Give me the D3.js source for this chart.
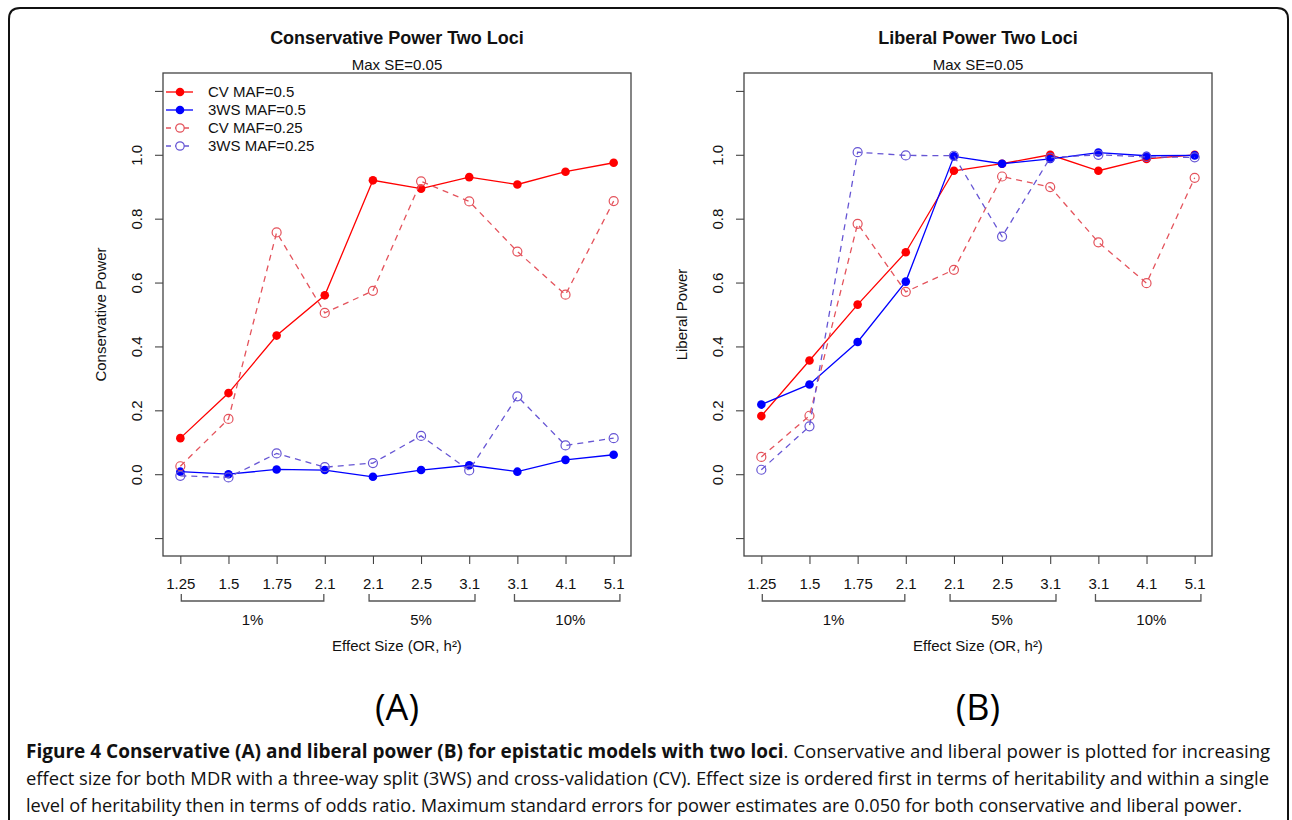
<!DOCTYPE html>
<html>
<head>
<meta charset="utf-8">
<script src="https://cdn.jsdelivr.net/npm/d3@7"></script>
<style>
  body { margin: 0; background: #fff; }
  svg { display: block; }
  .plot text { font-family: "Liberation Sans", Arial, sans-serif; fill: #111; }
  .caption text { font-family: "Open Sans", sans-serif; fill: #111; }
</style>
</head>
<body>
<div class="chart"></div>
<script>
// x categories (OR within heritability level)
var effectLabels = ['1.25', '1.5', '1.75', '2.1', '2.1', '2.5', '3.1', '3.1', '4.1', '5.1'];
var heritLabels = ['1%', '5%', '10%'];
var seriesNames = ['CV MAF=0.5', '3WS MAF=0.5', 'CV MAF=0.25', '3WS MAF=0.25'];
var yTicks = [-0.2, 0, 0.2, 0.4, 0.6, 0.8, 1.0, 1.2];

// conservative power (A)
var consCV05 = [0.113, 0.254, 0.434, 0.560, 0.920, 0.894, 0.930, 0.907, 0.947, 0.975];
var cons3WS05 = [0.008, 0.000, 0.015, 0.013, -0.008, 0.013, 0.028, 0.008, 0.045, 0.061];
var consCV025 = [0.025, 0.173, 0.757, 0.505, 0.574, 0.917, 0.854, 0.697, 0.562, 0.855];
var cons3WS025 = [-0.005, -0.010, 0.065, 0.022, 0.035, 0.120, 0.012, 0.244, 0.090, 0.113];

// liberal power (B)
var libCV05 = [0.182, 0.356, 0.531, 0.695, 0.950, 0.972, 1.000, 0.950, 0.987, 1.000];
var lib3WS05 = [0.218, 0.281, 0.414, 0.603, 0.995, 0.972, 0.987, 1.007, 0.997, 0.998];
var libCV025 = [0.054, 0.183, 0.784, 0.571, 0.640, 0.932, 0.899, 0.726, 0.598, 0.928];
var lib3WS025 = [0.014, 0.150, 1.008, 0.998, 0.997, 0.744, 0.991, 1.000, 0.993, 0.992];

var styles = [
  { color: '#ff0000', dash: null, filled: true },
  { color: '#0000ff', dash: null, filled: true },
  { color: '#e4535c', dash: '6,5', filled: false },
  { color: '#6655d4', dash: '6,5', filled: false }
];

var W = 1292, H = 820;
var svg = d3.select('.chart')
  .append('svg')
    .attr('width', W)
    .attr('height', H);

// frame around the figure
svg.append('path')
  .attr('d', 'M9,840 V19 Q9,8 20,8 H1277 Q1288,8 1288,19 V840')
  .attr('fill', 'none')
  .attr('stroke', '#111')
  .attr('stroke-width', 2);

function panel(left, title, ylab, series, letter, showLegend) {
  var top = 73, bottom = 556, right = left + 468;

  var xScale = d3.scaleLinear()
    .domain([0.64, 10.36])
    .range([left, right]);

  var yScale = d3.scaleLinear()
    .domain([-0.256, 1.256])
    .range([bottom, top]);

  var g = svg.append('g').attr('class', 'plot');

  // y axis, ticks at -0.2..1.2 but labels only 0..1
  var yAxis = d3.axisLeft(yScale)
    .tickValues(yTicks)
    .tickSize(8)
    .tickFormat(d => (d < 0 || d > 1.05) ? '' : d3.format('.1f')(d));

  var ya = g.append('g')
    .attr('transform', `translate(${left}, 0)`)
    .call(yAxis);
  ya.select('.domain').remove();
  ya.selectAll('line').attr('stroke', '#333');
  ya.selectAll('text')
    .attr('x', 0)
    .attr('dy', 0)
    .attr('y', -21)
    .attr('transform', 'rotate(-90)')
    .style('text-anchor', 'middle')
    .style('font-size', '15px');

  // x axis
  var xAxis = d3.axisBottom(xScale)
    .tickValues(d3.range(1, 11))
    .tickSize(8)
    .tickPadding(14)
    .tickFormat((d, i) => effectLabels[i]);

  var xa = g.append('g')
    .attr('transform', `translate(0, ${bottom})`)
    .call(xAxis);
  xa.select('.domain').remove();
  xa.selectAll('line').attr('stroke', '#333');
  xa.selectAll('text').style('font-size', '15px');

  // brackets for heritability groups
  var groups = [[1.02, 3.98], [4.92, 7.12], [7.94, 10.13]];
  var groupMid = [2.5, 6.0, 9.1];
  groups.forEach(function (r, i) {
    g.append('path')
      .attr('d', `M${xScale(r[0])},594 V601 H${xScale(r[1])} V594`)
      .attr('fill', 'none')
      .attr('stroke', '#555')
      .attr('stroke-width', 1.3);
    g.append('text')
      .attr('x', xScale(groupMid[i]))
      .attr('y', 625)
      .attr('text-anchor', 'middle')
      .style('font-size', '15px')
      .text(heritLabels[i]);
  });

  g.append('text')
    .attr('x', (left + right) / 2)
    .attr('y', 651)
    .attr('text-anchor', 'middle')
    .style('font-size', '15px')
    .text('Effect Size (OR, h²)');

  g.append('text')
    .attr('transform', `translate(${left - 57}, ${(top + bottom) / 2}) rotate(-90)`)
    .attr('text-anchor', 'middle')
    .style('font-size', '15px')
    .text(ylab);

  g.append('text')
    .attr('x', (left + right) / 2)
    .attr('y', 44)
    .attr('text-anchor', 'middle')
    .style('font-size', '18px')
    .style('font-weight', 'bold')
    .text(title);

  g.append('text')
    .attr('x', (left + right) / 2)
    .attr('y', 70)
    .attr('text-anchor', 'middle')
    .style('font-size', '15px')
    .text('Max SE=0.05');

  // series
  var line = d3.line()
    .x((d, i) => xScale(i + 1))
    .y(d => yScale(d));

  series.forEach(function (vals, k) {
    var s = styles[k];
    g.append('path')
      .datum(vals)
      .attr('d', line)
      .attr('fill', 'none')
      .attr('stroke', s.color)
      .attr('stroke-width', 1.3)
      .attr('stroke-dasharray', s.dash);

    g.selectAll('.pt' + k)
      .data(vals)
      .enter()
      .append('circle')
      .attr('cx', (d, i) => xScale(i + 1))
      .attr('cy', d => yScale(d))
      .attr('r', s.filled ? 4.3 : 4.5)
      .attr('fill', s.filled ? s.color : 'none')
      .attr('stroke', s.color)
      .attr('stroke-width', s.filled ? 0 : 1.2);
  });

  // plot box
  g.append('rect')
    .attr('x', left)
    .attr('y', top)
    .attr('width', right - left)
    .attr('height', bottom - top)
    .attr('fill', 'none')
    .attr('stroke', '#444')
    .attr('stroke-width', 1.3);

  if (showLegend) {
    seriesNames.forEach(function (name, k) {
      var s = styles[k];
      var ly = 92 + k * 18;
      g.append('line')
        .attr('x1', left + 3).attr('x2', left + 30)
        .attr('y1', ly).attr('y2', ly)
        .attr('stroke', s.color)
        .attr('stroke-width', 1.3)
        .attr('stroke-dasharray', s.dash ? '5,4' : null);
      g.append('circle')
        .attr('cx', left + 17).attr('cy', ly)
        .attr('r', s.filled ? 4.3 : 4.2)
        .attr('fill', s.filled ? s.color : '#fff')
        .attr('stroke', s.color)
        .attr('stroke-width', s.filled ? 0 : 1.2);
      g.append('text')
        .attr('x', left + 45)
        .attr('y', ly)
        .attr('dy', '0.36em')
        .style('font-size', '15px')
        .text(name);
    });
  }

  svg.append('text')
    .attr('class', 'caption')
    .attr('x', (left + right) / 2)
    .attr('y', 720)
    .attr('text-anchor', 'middle')
    .style('font-family', '"Open Sans", sans-serif')
    .style('font-size', '36px')
    .text(letter);
}

panel(163, 'Conservative Power Two Loci', 'Conservative Power',
  [consCV05, cons3WS05, consCV025, cons3WS025], '(A)', true);
panel(744, 'Liberal Power Two Loci', 'Liberal Power',
  [libCV05, lib3WS05, libCV025, lib3WS025], '(B)', false);

// caption
var cap = svg.append('g').attr('class', 'caption');
var l1 = cap.append('text').attr('x', 26).attr('y', 758).style('font-size', '18.6px');
l1.append('tspan').style('font-weight', 'bold').style('font-size', '19px')
  .text('Figure 4 Conservative (A) and liberal power (B) for epistatic models with two loci');
l1.append('tspan')
  .text('. Conservative and liberal power is plotted for increasing');
cap.append('text').attr('x', 26).attr('y', 785).style('font-size', '18.4px')
  .attr('textLength', 1243).attr('lengthAdjust', 'spacing')
  .text('effect size for both MDR with a three-way split (3WS) and cross-validation (CV). Effect size is ordered first in terms of heritability and within a single');
cap.append('text').attr('x', 26).attr('y', 812).style('font-size', '18.2px')
  .attr('textLength', 1216).attr('lengthAdjust', 'spacing')
  .text('level of heritability then in terms of odds ratio. Maximum standard errors for power estimates are 0.050 for both conservative and liberal power.');
</script>
</body>
</html>
